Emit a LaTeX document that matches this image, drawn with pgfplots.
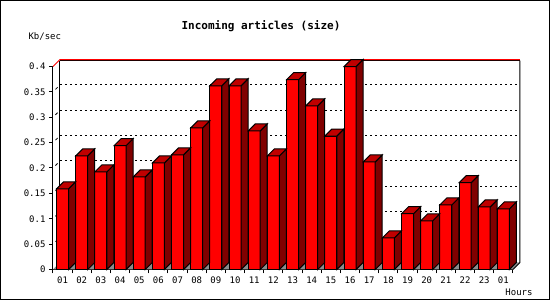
\documentclass[border=0pt]{standalone}
\usepackage{pgfplots}
\usepackage{pgfplotstable}
\usepackage{fontspec}
\setmonofont{DejaVu Sans Mono}
\pgfplotsset{compat=1.18}
\definecolor{frontred}{RGB}{255,0,0}
\definecolor{topred}{RGB}{192,0,0}
\definecolor{sidered}{RGB}{128,0,0}
\definecolor{floorgray}{RGB}{140,140,140}

\pgfplotstableread{
x v
0 0.159
1 0.224
2 0.1925
3 0.244
4 0.1826
5 0.210
6 0.226
7 0.279
8 0.362
9 0.362
10 0.273
11 0.224
12 0.374
13 0.3225
14 0.263
15 0.400
16 0.212
17 0.0624
18 0.110
19 0.096
20 0.1275
21 0.171
22 0.1235
23 0.1196
}\datatable

\pgfdeclareplotmark{sideface}{%
  \pgfmathsetlengthmacro\hh{\barval*507.5pt}%
  \pgfpathmoveto{\pgfqpoint{6pt}{0pt}}%
  \pgfpathlineto{\pgfqpoint{13pt}{7pt}}%
  \pgfpathlineto{\pgfpoint{13pt}{7pt-\hh}}%
  \pgfpathlineto{\pgfpoint{6pt}{-\hh}}%
  \pgfpathclose
  \pgfusepathqfillstroke}
\pgfdeclareplotmark{topface}{%
  \pgfpathmoveto{\pgfqpoint{-6pt}{0pt}}%
  \pgfpathlineto{\pgfqpoint{6pt}{0pt}}%
  \pgfpathlineto{\pgfqpoint{13pt}{7pt}}%
  \pgfpathlineto{\pgfqpoint{1pt}{7pt}}%
  \pgfpathclose
  \pgfusepathqfillstroke}

\begin{document}
\begin{tikzpicture}
\useasboundingbox (0,0) rectangle (550pt,300pt);
\fill[white] (0,0) rectangle (550pt,300pt);
\begin{axis}[
  at={(53pt,30.5pt)}, anchor=south west,
  scale only axis, width=460pt, height=203pt,
  xmin=-0.5, xmax=23.5, ymin=0, ymax=0.4,
  clip=false,
  axis x line*=bottom, axis y line*=left,
  axis line style={black, line width=1pt},
  tick align=outside, major tick length=4pt,
  tick style={black, line width=1pt},
  xtick={-0.5,0.5,...,23.5},
  x tick label as interval,
  xticklabels={01,02,03,04,05,06,07,08,09,10,11,12,13,14,15,16,17,18,19,20,21,22,23,01},
  ytick={0,0.05,0.1,0.15,0.2,0.25,0.3,0.35,0.4},
  scaled y ticks=false,
  /pgf/number format/fixed,
  /pgf/number format/precision=2,
  /pgf/number format/assume math mode=true,
  ticklabel style={font=\ttfamily\fontsize{9}{10}\selectfont},
]
% floor
\fill[floorgray] (axis cs:-0.5,0) -- (axis cs:23.5,0) -- ([shift={(7pt,7pt)}]axis cs:23.5,0) -- ([shift={(7pt,7pt)}]axis cs:-0.5,0) -- cycle;
% back grid lines
\pgfplotsinvokeforeach{0.05,0.1,0.15,0.2,0.25,0.3,0.35}{
  \draw[black, line width=1pt, dash pattern=on 2pt off 3pt] ([shift={(7pt,7pt)}]axis cs:-0.5,#1) -- ([shift={(7pt,7pt)}]axis cs:23.5,#1);
  \draw[black, line width=0.8pt, dash pattern=on 3pt off 4pt, dash phase=3.5pt] (axis cs:-0.5,#1) -- ([shift={(7pt,7pt)}]axis cs:-0.5,#1);
}
% walls
\draw[black, line width=1pt] ([shift={(7pt,7pt)}]axis cs:-0.5,0) -- ([shift={(7pt,6pt)}]axis cs:-0.5,0.4);
\draw[black, line width=1pt] ([shift={(7pt,6pt)}]axis cs:23.5,0.4) -- ([shift={(7pt,7pt)}]axis cs:23.5,0) -- (axis cs:23.5,0);
\draw[black, line width=1pt] ([shift={(7pt,6pt)}]axis cs:-0.5,0.4) -- ([shift={(7pt,6pt)}]axis cs:23.5,0.4);
\draw[frontred, line width=1pt] (axis cs:-0.5,0.4) -- ([shift={(7pt,7pt)}]axis cs:-0.5,0.4) -- ([shift={(7pt,7pt)}]axis cs:23.5,0.4);
% bars
\addplot[ybar, bar width=12pt, bar shift=0pt, fill=frontred, draw=black, line width=1pt]
  table[x=x, y=v] {\datatable};
\addplot[only marks, mark=sideface, visualization depends on={\thisrow{v} \as \barval},
  mark options={fill=sidered, draw=black, line width=1pt}]
  table[x=x, y=v] {\datatable};
\addplot[only marks, mark=topface,
  mark options={fill=topred, draw=black, line width=1pt}]
  table[x=x, y=v] {\datatable};
\end{axis}
\node[font=\ttfamily\bfseries\fontsize{11}{12}\selectfont, inner sep=0pt] at (261pt,273.5pt) {Incoming articles (size)};
\node[font=\ttfamily\fontsize{9}{10}\selectfont, anchor=west, inner sep=0pt] at (28.3pt,263pt) {Kb/sec};
\node[font=\ttfamily\fontsize{9}{10}\selectfont, inner sep=0pt] at (519pt,8pt) {Hours};
\draw[black, line width=1pt] (0.5pt,0.5pt) rectangle (549.5pt,299.5pt);
\end{tikzpicture}
\end{document}
